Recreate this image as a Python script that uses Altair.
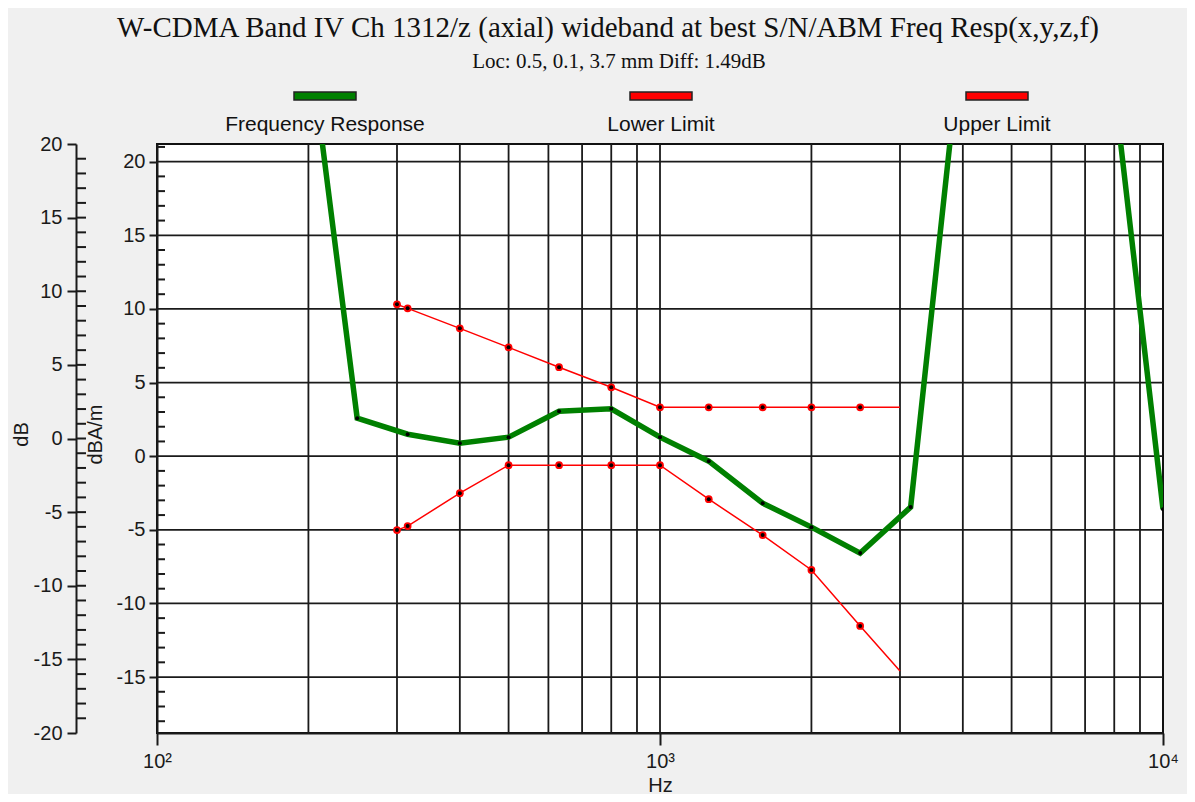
import altair as alt
import pandas as pd

TITLE = "W-CDMA Band IV Ch 1312/z (axial) wideband at best S/N/ABM Freq Resp(x,y,z,f)"
SUBTITLE = "Loc: 0.5, 0.1, 3.7 mm Diff: 1.49dB"
series_names = ["Frequency Response", "Lower Limit", "Upper Limit"]
series_colors = ["#008000", "#ff0000", "#ff0000"]

resp_freq = [200, 250, 315, 400, 500, 630, 800, 1000, 1250, 1600, 2000, 2500, 3150,
             4000, 5000, 6300, 8000, 10000]
resp_val = [28.7, 2.58, 1.49, 0.88, 1.29, 3.05, 3.22, 1.29, -0.34, -3.19, -4.82, -6.58, -3.46,
            29.4, 38.0, 36.0, 25.0, -3.6]

limit_freq = [300, 315, 400, 500, 630, 800, 1000, 1250, 1600, 2000, 2500, 3000]
upper_val = [10.31, 10.04, 8.68, 7.39, 6.04, 4.68, 3.32, 3.32, 3.32, 3.32, 3.32, 3.32]
lower_val = [-5.02, -4.75, -2.51, -0.61, -0.61, -0.61, -0.61, -2.92, -5.36, -7.73, -11.53, -14.59]

x_grid = [200, 300, 400, 500, 600, 700, 800, 900, 1000,
          2000, 3000, 4000, 5000, 6000, 7000, 8000, 9000]
x_ticks = [100, 1000, 10000]
x_labels = ["10\u00b2", "10\u00b3", "10\u2074"]
inner_ticks = [20, 15, 10, 5, 0, -5, -10, -15]
inner_minor = [v for v in range(-18, 22) if v % 5 != 0]
inner_domain = [-18.8, 21.2]
outer_ticks = [20, 15, 10, 5, 0, -5, -10, -15, -20]
outer_minor = list(range(-19, 20))
outer_domain = [-20, 20]

W, H = 1006, 589
INK = "#1a1a1a"

resp_df = pd.DataFrame({"f": resp_freq, "v": resp_val})
upper_df = pd.DataFrame({"f": limit_freq, "v": upper_val})
lower_df = pd.DataFrame({"f": limit_freq, "v": lower_val})

xs = alt.Scale(type="log", domain=[100, 10000])
ys = alt.Scale(domain=inner_domain, nice=False, zero=False)

label_expr = ""
for t, l in zip(x_ticks, x_labels):
    label_expr += f"datum.value == {t} ? '{l}' : "
label_expr += "''"

x_axis = alt.Axis(values=x_ticks, labelExpr=label_expr, tickSize=12, labelPadding=6,
                  labelFlush=False, title="Hz", titlePadding=4, grid=False)
y_axis = alt.Axis(values=inner_ticks, labelExpr="'' + datum.value", tickSize=8, labelPadding=4,
                  grid=False, title="dBA/m", titleX=-62, titleY=290, titleAngle=270,
                  titleAlign="center", titleBaseline="middle")

X = lambda: alt.X("f:Q", scale=xs, axis=x_axis)
Y = lambda: alt.Y("v:Q", scale=ys, axis=y_axis)

vgrid = alt.Chart(pd.DataFrame({"f": x_grid})).mark_rule(color=INK, strokeWidth=1.8).encode(x=X())
hgrid = alt.Chart(pd.DataFrame({"v": inner_ticks})).mark_rule(color=INK, strokeWidth=1.8).encode(y=Y())
iminor = alt.Chart(pd.DataFrame({"v": inner_minor})).mark_rule(color=INK, strokeWidth=2).encode(
    y=Y(), x=alt.value(0), x2=alt.value(8))


def limit_layers(df):
    line = alt.Chart(df).mark_line(color="#ff0000", strokeWidth=1.5, clip=True).encode(x=X(), y=Y())
    base = alt.Chart(df).transform_filter(alt.datum.f < 3000)
    outer = base.mark_circle(color="#ff0000", size=60, opacity=1).encode(x=X(), y=Y())
    inner = base.mark_circle(color="#000000", size=16, opacity=1).encode(x=X(), y=Y())
    return [line, outer, inner]


resp_line = alt.Chart(resp_df).mark_line(color="#008000", strokeWidth=5.5, clip=True).encode(x=X(), y=Y())
resp_pts = alt.Chart(resp_df).mark_circle(color="#000000", size=16, opacity=1, clip=True).encode(x=X(), y=Y())

inner_layer = alt.layer(vgrid, hgrid, iminor,
                        *limit_layers(upper_df), *limit_layers(lower_df),
                        resp_line, resp_pts)

outer_axis = alt.Axis(orient="left", offset=81, values=outer_ticks, labelExpr="'' + datum.value",
                      tickSize=9, labelPadding=5,
                      grid=False, title="dB", titleX=-55, titleY=290, titleAngle=270,
                      titleAlign="center", titleBaseline="middle")
outer_layer = alt.Chart(pd.DataFrame({"v": outer_minor})).mark_rule(color=INK, strokeWidth=2).encode(
    y=alt.Y("v:Q", scale=alt.Scale(domain=outer_domain, nice=False, zero=False), axis=outer_axis),
    x=alt.value(-81), x2=alt.value(-71))

dummy = pd.DataFrame({"k": [0]})
texts = [
    alt.Chart(dummy).mark_text(text=TITLE, font="Liberation Serif", fontSize=29, color="#111",
                               align="center", baseline="middle").encode(x=alt.value(451), y=alt.value(-116)),
    alt.Chart(dummy).mark_text(text=SUBTITLE, font="Liberation Serif", fontSize=21, color="#111",
                               align="center", baseline="middle").encode(x=alt.value(462), y=alt.value(-82)),
]
legend_x = [168, 504, 840]
for name, col, cx in zip(series_names, series_colors, legend_x):
    texts.append(alt.Chart(dummy).mark_rect(fill=col, stroke="#222", strokeWidth=1.5).encode(
        x=alt.value(cx - 31), x2=alt.value(cx + 31), y=alt.value(-52), y2=alt.value(-44)))
    texts.append(alt.Chart(dummy).mark_text(text=name, font="Liberation Sans", fontSize=21, color="#111",
                                            align="center", baseline="middle").encode(
        x=alt.value(cx), y=alt.value(-19)))

chart = alt.layer(inner_layer, outer_layer, *texts).resolve_scale(y="independent").properties(
    width=W, height=H, autosize="none",
    padding={"left": 149, "top": 136, "right": 24, "bottom": 61},
    background="#f0f0f0",
).configure_view(stroke="#111", strokeWidth=2, fill="white").configure_axis(
    domainColor=INK, domainWidth=2, tickColor=INK, tickWidth=2,
    labelFont="Liberation Sans", labelFontSize=20, labelColor="#1a1a1a",
    titleFont="Liberation Sans", titleFontSize=20, titleFontWeight="normal", titleColor="#1a1a1a",
)

chart.save("out.html", embed_options={"renderer": "svg", "actions": False})
